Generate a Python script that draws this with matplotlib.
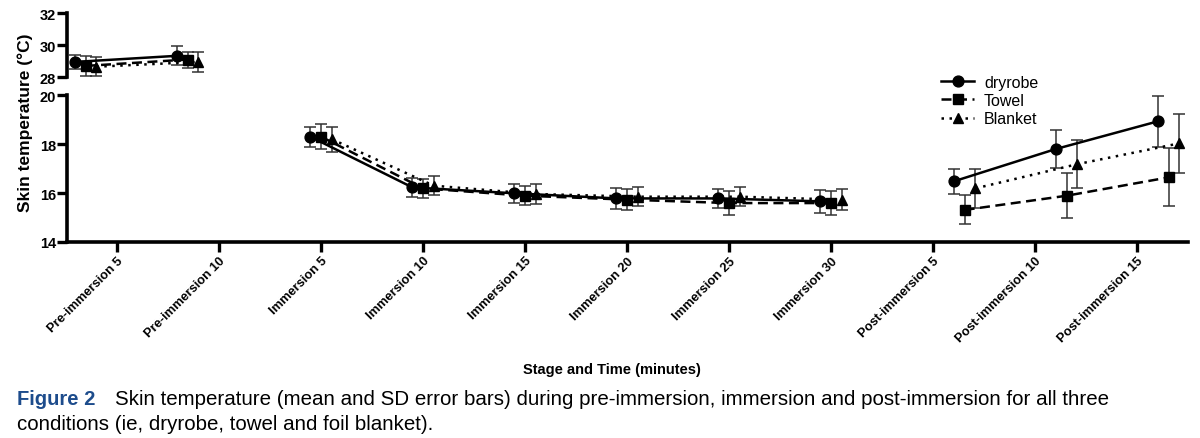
import matplotlib
matplotlib.use("Agg")
import matplotlib.pyplot as plt
import numpy as np

plt.rcParams['font.family'] = ['Liberation Sans', 'DejaVu Sans']

# stage labels on the x axis
stages = ["Pre-immersion 5", "Pre-immersion 10",
          "Immersion 5", "Immersion 10", "Immersion 15", "Immersion 20",
          "Immersion 25", "Immersion 30",
          "Post-immersion 5", "Post-immersion 10", "Post-immersion 15"]

# mean and SD per condition
dryrobe_mean = [28.95, 29.33, 18.30, 16.23, 15.99, 15.78, 15.78, 15.66, 16.48, 17.80, 18.93]
dryrobe_sd   = [0.45, 0.60, 0.41, 0.39, 0.39, 0.42, 0.40, 0.47, 0.51, 0.76, 1.03]
towel_mean   = [28.70, 29.10, 18.30, 16.19, 15.89, 15.73, 15.59, 15.59, 15.31, 15.89, 16.64]
towel_sd     = [0.60, 0.50, 0.51, 0.38, 0.39, 0.43, 0.50, 0.50, 0.59, 0.91, 1.18]
blanket_mean = [28.65, 28.95, 18.20, 16.30, 15.96, 15.85, 15.85, 15.73, 16.19, 17.18, 18.03]
blanket_sd   = [0.60, 0.60, 0.51, 0.38, 0.39, 0.38, 0.39, 0.44, 0.80, 0.98, 1.20]

# stage groups (index ranges) and their horizontal shift against the ticks
groups = [(0, 2, -0.31), (2, 8, 0.0), (8, 11, 0.31)]

series = [
    ("dryrobe", dryrobe_mean, dryrobe_sd, "o", "-", 7.8, -0.105),
    ("Towel", towel_mean, towel_sd, "s", (0, (4, 2.2)), 7.0, 0.0),
    ("Blanket", blanket_mean, blanket_sd, "^", (0, (1, 2.2)), 7.5, 0.105),
]

fig = plt.figure(figsize=(12, 4.39), dpi=100)
ax_top = fig.add_axes([0.056, 0.822, 0.934, 0.146])
ax_bot = fig.add_axes([0.056, 0.4465, 0.934, 0.3345])

for ax in (ax_top, ax_bot):
    ax.set_xlim(-0.49, 10.5)
    for s in ("top", "right"):
        ax.spines[s].set_visible(False)
    ax.spines["left"].set_linewidth(2.6)
    ax.spines["bottom"].set_linewidth(2.6)
    ax.tick_params(axis="y", width=2.4, length=7, labelsize=10.5, pad=1)

ax_top.set_ylim(28, 32)
ax_top.set_yticks([28, 30, 32])
ax_top.spines["bottom"].set_visible(False)
ax_top.set_xticks([])

ax_bot.set_ylim(14, 20)
ax_bot.set_yticks([14, 16, 18, 20])
ax_bot.set_xticks(np.arange(len(stages)))
ax_bot.set_xticklabels(stages, rotation=45, ha="right", rotation_mode="anchor",
                       fontsize=9.3, fontweight="bold")
ax_bot.tick_params(axis="x", width=2.4, length=7, pad=2)

for ax in (ax_top, ax_bot):
    for lab in ax.get_yticklabels():
        lab.set_fontweight("bold")

handles = []
for name, mean, sd, mk, ls, ms, dodge in series:
    for i0, i1, shift in groups:
        ax = ax_top if i0 == 0 else ax_bot
        x = np.arange(i0, i1) + shift + dodge
        ax.errorbar(x, mean[i0:i1], yerr=sd[i0:i1], color="black",
                    ecolor="#333333", elinewidth=1.1, capsize=4, capthick=1.1,
                    marker=mk, markersize=ms, linestyle=ls, linewidth=1.8,
                    clip_on=False, zorder=3)
    h, = ax_bot.plot([], [], color="black", marker=mk, markersize=ms,
                     linestyle=ls, linewidth=1.8, label=name)
    handles.append(h)

fig.legend(handles=handles, loc="upper left", bbox_to_anchor=(0.772, 0.86),
           frameon=False, fontsize=11.5, handlelength=2.1, labelspacing=0.2,
           handletextpad=0.6)

fig.text(0.021, 0.72, "Skin temperature (\u00b0C)", rotation=90, ha="center",
         va="center", fontsize=12.5, fontweight="bold")
fig.text(0.51, 0.158, "Stage and Time (minutes)", ha="center", va="center",
         fontsize=10.5, fontweight="bold")

fig.text(0.014, 0.089, "Figure 2", ha="left", va="center", fontsize=14.5,
         fontweight="bold", color="#1d4c8c")
fig.text(0.096, 0.089, "Skin temperature (mean and SD error bars) during pre-immersion, "
         "immersion and post-immersion for all three", ha="left", va="center",
         fontsize=14.8)
fig.text(0.014, 0.034, "conditions (ie, dryrobe, towel and foil blanket).",
         ha="left", va="center", fontsize=14.8)

fig.savefig("out.png", dpi=100)
